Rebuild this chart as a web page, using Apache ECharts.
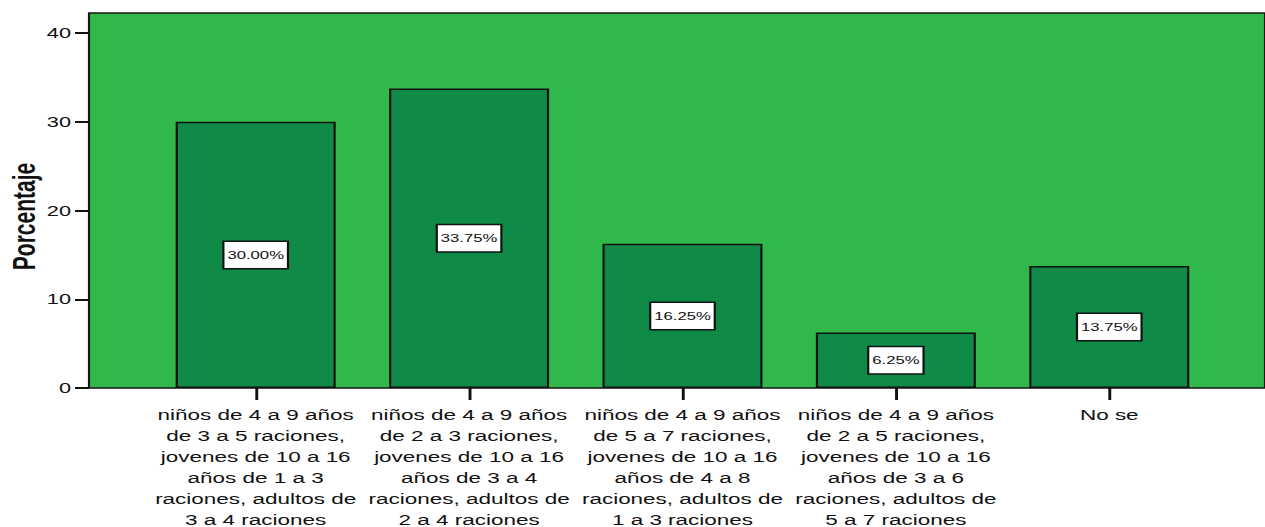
<!DOCTYPE html>
<html>
<head>
<meta charset="utf-8">
<script src="https://cdn.jsdelivr.net/npm/echarts@6/dist/echarts.min.js"></script>
<style>
  html, body { margin: 0; padding: 0; background: #ffffff; overflow: hidden; }
  /* chart is laid out narrower and stretched horizontally to the page width */
  #chart { width: 872px; height: 527px; transform: scaleX(1.450688); transform-origin: 0 0; }
</style>
</head>
<body>
<div id="chart"></div>
<script>
// Porciones recomendadas por grupo de edad
const categories = [
  'niños de 4 a 9 años\nde 3 a 5 raciones,\njovenes de 10 a 16\naños de 1 a 3\nraciones, adultos de\n3 a 4 raciones',
  'niños de 4 a 9 años\nde 2 a 3 raciones,\njovenes de 10 a 16\naños de 3 a 4\nraciones, adultos de\n2 a 4 raciones',
  'niños de 4 a 9 años\nde 5 a 7 raciones,\njovenes de 10 a 16\naños de 4 a 8\nraciones, adultos de\n1 a 3 raciones',
  'niños de 4 a 9 años\nde 2 a 5 raciones,\njovenes de 10 a 16\naños de 3 a 6\nraciones, adultos de\n5 a 7 raciones',
  'No se'
];
const percentages = [30.00, 33.75, 16.25, 6.25, 13.75];
const yAxisTitle = 'Porcentaje';
const yMin = 0, yMax = 40, yStep = 10;

const FONT = "'Liberation Sans', Arial, Helvetica, sans-serif";
const chart = echarts.init(document.getElementById('chart'), null, { renderer: 'svg', width: 872, height: 527 });

chart.setOption({
  animation: false,
  backgroundColor: '#ffffff',
  textStyle: { fontFamily: FONT },
  grid: [
    // green plotting panel with its frame
    { left: 61.35, right: 0, top: 13, bottom: 139, show: true, outerBoundsMode: 'none', containLabel: false,
      backgroundColor: '#30b84b', borderColor: '#161616', borderWidth: 1.5 },
    // grid holding the bars
    { left: 102.7, right: 33.8, top: 33, bottom: 139, outerBoundsMode: 'none', containLabel: false }
  ],
  xAxis: [
    { gridIndex: 0, type: 'value', show: false },
    {
      gridIndex: 1, type: 'category', data: categories,
      axisLine: { show: false },
      axisTick: { show: true, alignWithLabel: true, length: 12, lineStyle: { color: '#111', width: 2 } },
      axisLabel: { interval: 0, color: '#111', fontSize: 15.5, lineHeight: 21, margin: 16, fontFamily: FONT }
    }
  ],
  yAxis: [
    { gridIndex: 0, type: 'value', show: false },
    {
      gridIndex: 1, type: 'value', min: yMin, max: yMax, interval: yStep,
      offset: 41.36,
      axisLine: { show: false },
      axisTick: { show: true, length: 9.65, lineStyle: { color: '#111', width: 2 } },
      axisLabel: { color: '#111', fontSize: 15, margin: 12.4, fontFamily: FONT },
      splitLine: { show: false },
      name: yAxisTitle, nameLocation: 'middle', nameGap: 34, nameMoveOverlap: false,
      nameTextStyle: { color: '#111', fontSize: 21, fontWeight: 'bold', fontFamily: FONT, padding: [0, 12, 0, 0] }
    }
  ],
  series: [{
    type: 'bar',
    xAxisIndex: 1, yAxisIndex: 1,
    data: percentages,
    barWidth: 110.3,
    itemStyle: { color: '#0f8a47', borderColor: '#111', borderWidth: 1.5 },
    label: {
      show: true, position: 'inside',
      formatter: p => p.value.toFixed(2) + '%',
      color: '#111', fontSize: 11.5, fontFamily: FONT, lineHeight: 14,
      backgroundColor: '#ffffff', borderColor: '#111', borderWidth: 1.5,
      padding: [6, 2, 6, 2]
    }
  }]
});
</script>
</body>
</html>
